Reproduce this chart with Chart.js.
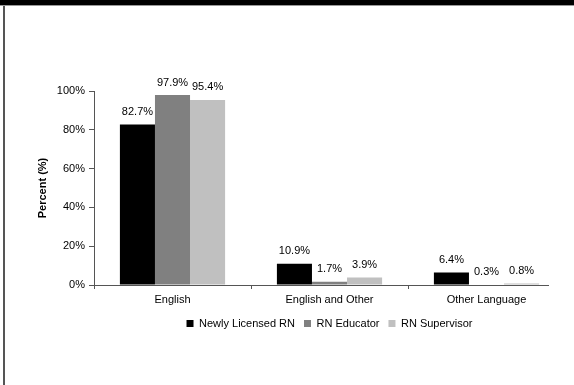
<!DOCTYPE html>
<html>
<head>
<meta charset="utf-8">
<script src="https://cdn.jsdelivr.net/npm/chart.js@4"></script>
<style>
  html, body { margin: 0; padding: 0; background: #fff; }
  #wrap { position: relative; width: 574px; height: 385px; overflow: hidden; }
  #band { position: absolute; left: 0; top: 0; width: 574px; height: 5px; background: #000; border-bottom: 1px solid #999; }
  #edge { position: absolute; left: 3px; top: 6px; width: 2px; height: 379px; background: #555; }
  canvas { position: absolute; left: 0; top: 0; }
</style>
</head>
<body>
<div id="wrap">
  <div id="band"></div>
  <div id="edge"></div>
  <canvas id="chart" width="574" height="385"></canvas>
</div>
<script>
const categories = ['English', 'English and Other', 'Other Language'];
const seriesNames = ['Newly Licensed RN', 'RN Educator', 'RN Supervisor'];
const newlyLicensed = [82.7, 10.9, 6.4];
const educator = [97.9, 1.7, 0.3];
const supervisor = [95.4, 3.9, 0.8];
const yTicks = [0, 20, 40, 60, 80, 100];

const font = '"Liberation Sans", Arial, sans-serif';

// labels above each bar + the x axis line (it stops short of the right edge in the original)
const barLabels = {
    id: 'barLabels',
    afterDatasetsDraw(chart) {
        const ctx = chart.ctx;
        const area = chart.chartArea;
        ctx.save();
        ctx.strokeStyle = '#555';
        ctx.lineWidth = 1;
        ctx.beginPath();
        ctx.moveTo(area.left, Math.round(area.bottom) + 0.5);
        ctx.lineTo(area.right - 16, Math.round(area.bottom) + 0.5);
        ctx.stroke();

        ctx.font = '11px ' + font;
        ctx.fillStyle = '#000';
        ctx.textAlign = 'center';
        ctx.textBaseline = 'bottom';
        chart.data.datasets.forEach((ds, i) => {
            chart.getDatasetMeta(i).data.forEach((bar, j) => {
                ctx.fillText(ds.data[j].toFixed(1) + '%', bar.x, bar.y - 7);
            });
        });
        ctx.restore();
    }
};

const ctx = document.getElementById('chart').getContext('2d');
const chart = new Chart(ctx, {
    type: 'bar',
    data: {
        labels: categories,
        datasets: [
            { label: seriesNames[0], data: newlyLicensed, backgroundColor: '#000000' },
            { label: seriesNames[1], data: educator, backgroundColor: '#808080' },
            { label: seriesNames[2], data: supervisor, backgroundColor: '#c0c0c0' }
        ]
    },
    options: {
        responsive: false,
        animation: false,
        layout: { padding: { top: 91, left: 34, right: 9, bottom: 46 } },
        datasets: { bar: { categoryPercentage: 0.67, barPercentage: 1.0 } },
        plugins: {
            legend: {
                position: 'bottom',
                fullSize: false,
                labels: {
                    boxWidth: 7,
                    boxHeight: 7,
                    padding: 9,
                    color: '#000',
                    font: { family: font, size: 11 }
                }
            },
            tooltip: { enabled: false }
        },
        scales: {
            x: {
                grid: {
                    drawOnChartArea: false,
                    tickLength: 4,
                    // no tick mark at the far right end
                    color: c => (c.type === 'tick' && c.index < 3 ? '#555' : 'rgba(0,0,0,0)')
                },
                border: { display: false },
                ticks: { color: '#000', padding: 4, font: { family: font, size: 11 } },
                afterFit: scale => { scale.height = 24; }
            },
            y: {
                min: 0,
                max: 100,
                afterBuildTicks: scale => { scale.ticks = yTicks.map(v => ({ value: v })); },
                grid: { drawOnChartArea: false, tickLength: 5, color: '#555' },
                border: { color: '#555' },
                ticks: {
                    color: '#000',
                    padding: 4,
                    font: { family: font, size: 11 },
                    callback: v => v + '%'
                },
                title: {
                    display: true,
                    text: 'Percent (%)',
                    color: '#000',
                    padding: 2,
                    font: { family: font, size: 11, weight: 'bold' }
                },
                afterFit: scale => { scale.width = 60; }
            }
        }
    },
    plugins: [barLabels]
});
</script>
</body>
</html>
